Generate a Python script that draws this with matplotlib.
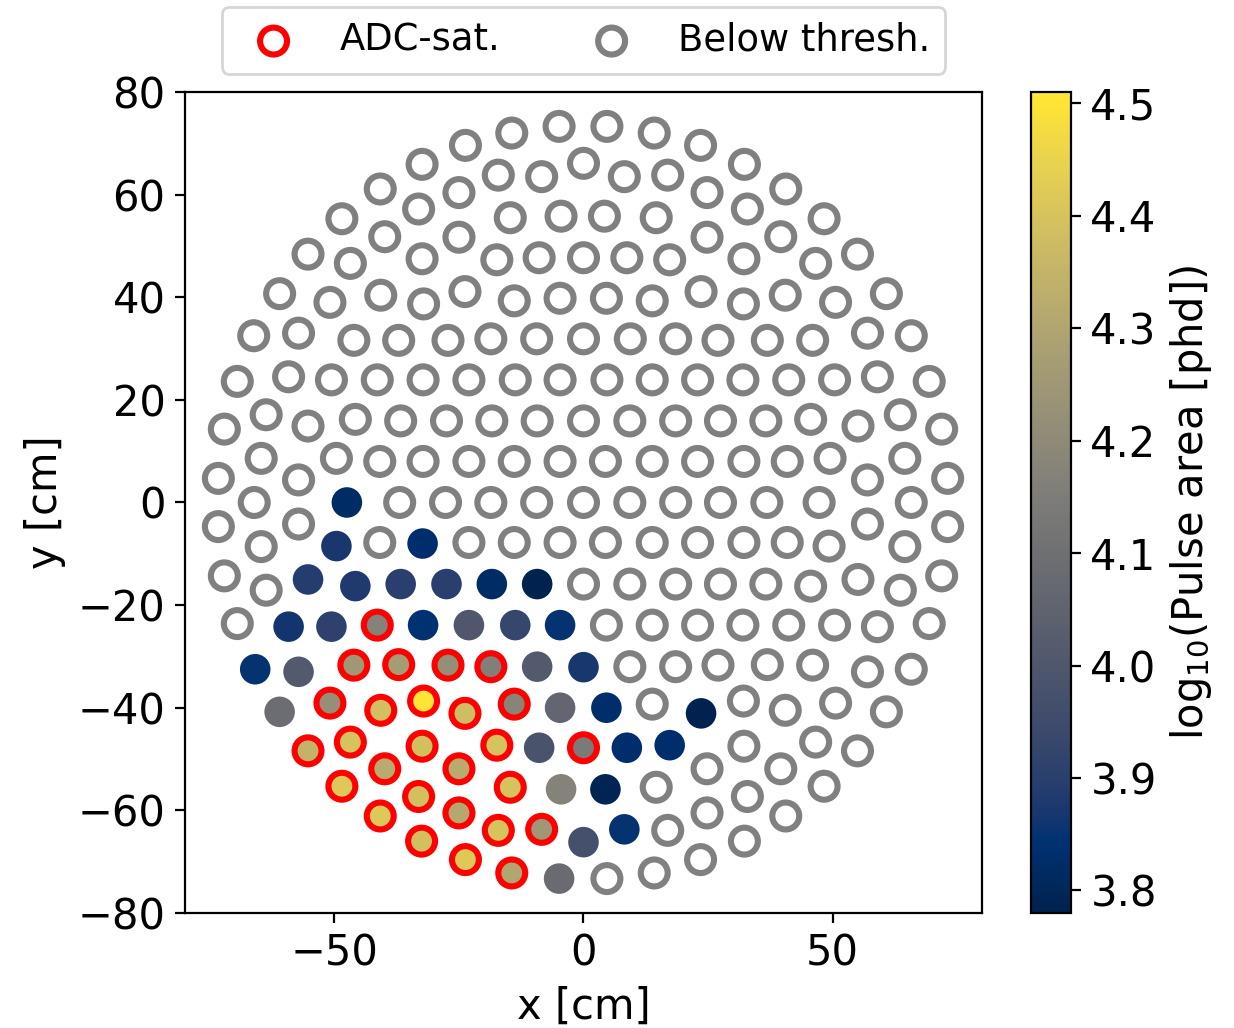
import numpy as np
import matplotlib
matplotlib.use('Agg')
import matplotlib.pyplot as plt
from matplotlib.colors import Normalize

plt.rcParams['font.size'] = 15

# below-threshold PMTs (gray rings), positions in cm, read row by row
bt_x = [
    -4.9, 4.7,
    -14.4, 14.2,
    -23.7, 23.5,
    0.0,
    -32.4, 32.3,
    -17.1, 16.9,
    -8.4, 8.2,
    -40.8, 40.6,
    -25.0, 24.8,
    -33.1, 32.9,
    -4.5, 4.2,
    -14.7, 14.6,
    -48.5, 48.3,
    -39.9, 39.6,
    -25.0, 24.8,
    -55.3, 55.0,
    -8.9, 0.0, 8.7,
    -32.4, 32.2,
    -17.4, 17.3,
    -46.8, 46.6,
    -23.8, 23.6,
    -61.0, 60.8,
    -40.7, 40.5,
    -4.7, 4.6,
    -13.9, 13.8,
    -50.9, 50.6,
    -32.1, 32.1,
    -57.2, 57.0,
    -66.2, 65.8,
    -18.6, -9.4, 0.0, 9.4, 18.5,
    -46.1, -37.1, -27.2, 27.0, 36.9, 46.0,
    -59.2, 59.0,
    -50.6, -41.4, -32.2, -23.0, -13.7, -4.7, 4.7, 13.8, 22.9, 32.0, 41.2, 50.4,
    -69.5, 69.4,
    -63.7, 63.6,
    -45.8, 45.6,
    -36.7, -27.5, -18.4, -9.3, 0.0, 9.3, 18.5, 27.5, 36.6,
    -55.3, 55.1,
    -72.1, 71.9,
    -64.7, -49.6, 49.5, 64.5,
    -40.9, -32.2, -23.0, -13.9, -4.7, 4.4, 13.8, 22.9, 32.2, 40.9,
    -73.3, 73.1,
    -57.2, 57.0,
    -66.1, -36.9, -27.7, -18.6, -9.4, 0.0, 9.3, 18.5, 27.5, 36.8, 47.3, 65.8,
    -57.2, 57.0,
    -73.3, 73.1,
    -40.9, -23.0, -13.9, -4.7, 4.4, 13.8, 22.9, 32.2, 40.9,
    49.3,
    -64.7, 64.5,
    -72.1, 71.9,
    55.1,
    0.0, 9.3, 18.5, 27.5, 36.6,
    45.6,
    -63.7, 63.6,
    -69.5, 69.4,
    4.6, 13.8, 22.9, 32.0, 41.2, 50.4,
    59.0,
    36.9,
    27.0, 46.0,
    9.3, 18.5,
    65.8,
    57.0,
    32.1,
    50.6,
    13.8,
    40.5,
    60.8,
    46.6,
    32.2,
    55.0,
    24.8, 39.6,
    48.3,
    14.6,
    32.9,
    24.8,
    40.6,
    16.9,
    32.3,
    23.5,
    14.2,
    4.7,
]
bt_y = ([73.3] * 2 + [72.0] * 2 + [69.6] * 2 + [66.1] * 1 + [65.9] * 2
        + [63.8] * 2 + [63.5] * 2 + [61.1] * 2 + [60.4] * 2 + [57.2] * 2
        + [55.8] * 2 + [55.5] * 2 + [55.3] * 2 + [51.8] * 2 + [51.7] * 2
        + [48.4] * 2 + [47.7] * 3 + [47.5] * 2 + [47.3] * 2 + [46.6] * 2
        + [41.1] * 2 + [40.7] * 2 + [40.4] * 2 + [39.8] * 2 + [39.3] * 2
        + [39.0] * 2 + [38.7] * 2 + [33.0] * 2 + [32.5] * 2 + [31.9] * 5
        + [31.6] * 6 + [24.5] * 2 + [23.9] * 12 + [23.6] * 2 + [17.1] * 2
        + [16.2] * 2 + [15.9] * 9 + [14.9] * 2 + [14.3] * 2 + [8.6] * 4
        + [8.0] * 10 + [4.7] * 2 + [4.4] * 2 + [0.0] * 12
        + [-4.2] * 2 + [-4.7] * 2 + [-7.8] * 9 + [-8.5] * 1 + [-8.6] * 2
        + [-14.3] * 2 + [-15.0] * 1 + [-15.9] * 5 + [-16.3] * 1 + [-17.1] * 2
        + [-23.6] * 2 + [-23.9] * 6 + [-24.2] * 1 + [-31.6] * 1 + [-31.7] * 2
        + [-32.0] * 2 + [-32.5] * 1 + [-33.0] * 1 + [-38.7] * 1 + [-39.1] * 1
        + [-39.3] * 1 + [-40.5] * 1 + [-40.8] * 1 + [-46.7] * 1 + [-47.5] * 1
        + [-48.4] * 1 + [-51.9] * 2 + [-55.3] * 1 + [-55.5] * 1 + [-57.3] * 1
        + [-60.5] * 1 + [-61.1] * 1 + [-63.9] * 1 + [-66.0] * 1 + [-69.6] * 1
        + [-72.2] * 1 + [-73.3] * 1)
assert len(bt_x) == len(bt_y)

# PMTs above threshold, not saturated: x, y [cm], log10(pulse area)
hit_x = [-47.5, -49.6, -32.3, -55.3, -45.8, -36.7, -27.5, -18.4, -9.3,
         -59.2, -50.6, -32.2, -23.0, -13.7, -4.7, -65.9, -57.2, -9.3, 0.0,
         -61.0, -4.7, 4.6, 23.6, -8.9, 8.7, 17.3, -4.5, 4.4, 0.0, 8.2, -4.9]
hit_y = [0.0, -8.5, -8.0, -15.0, -16.3, -15.9, -15.9, -15.9, -15.9,
         -24.2, -24.2, -23.9, -23.9, -23.9, -23.9, -32.5, -33.0, -32.0, -32.1,
         -40.8, -40.0, -40.0, -41.1, -47.8, -47.8, -47.3, -55.9, -55.9, -66.2,
         -63.7, -73.3]
hit_v = [3.82, 3.87, 3.83, 3.89, 3.88, 3.90, 3.90, 3.82, 3.78,
         3.86, 3.91, 3.84, 4.00, 3.93, 3.85, 3.85, 4.01, 4.01, 3.87,
         4.09, 4.06, 3.83, 3.78, 3.98, 3.83, 3.83, 4.17, 3.79, 3.97,
         3.85, 4.08]

# ADC-saturated PMTs
sat_x = [-41.4, -46.1, -37.1, -27.2, -18.6, -50.9, -40.7, -32.1, -23.8,
         -13.9, -55.3, -46.8, -32.4, -17.4, 0.0, -39.9, -25.0, -48.5, -33.1,
         -14.7, -40.8, -25.0, -17.1, -8.4, -32.5, -23.7, -14.4]
sat_y = [-23.9, -31.7, -31.6, -31.7, -32.0, -39.1, -40.5, -38.7, -41.1,
         -39.3, -48.4, -46.7, -47.5, -47.3, -47.8, -51.9, -51.9, -55.3, -57.3,
         -55.5, -61.1, -60.5, -63.9, -63.7, -66.0, -69.6, -72.2]
sat_v = [4.17, 4.25, 4.27, 4.22, 4.16, 4.22, 4.39, 4.50, 4.38,
         4.18, 4.35, 4.40, 4.39, 4.40, 4.14, 4.32, 4.32, 4.42, 4.39,
         4.40, 4.42, 4.31, 4.40, 4.25, 4.39, 4.42, 4.30]

cbar_ticks = [3.8, 3.9, 4.0, 4.1, 4.2, 4.3, 4.4, 4.5]

fig = plt.figure(figsize=(6.17, 5.14), dpi=200)
ax = fig.add_axes([0.1499, 0.1119, 0.6459, 0.7986])
cax = fig.add_axes([0.8355, 0.1119, 0.0324, 0.7986])

norm = Normalize(vmin=3.78, vmax=4.51)
ring_s = 94
fill_s = 121
lw = 2.2

bt = ax.scatter(bt_x, bt_y, s=ring_s, facecolors='none', edgecolors='gray',
                linewidths=lw, label='Below thresh.')
sc = ax.scatter(hit_x, hit_y, c=hit_v, s=fill_s, cmap='cividis', norm=norm,
                linewidths=0)
ax.scatter(sat_x, sat_y, c=sat_v, s=fill_s, cmap='cividis', norm=norm,
           linewidths=0)
sat = ax.scatter(sat_x, sat_y, s=ring_s, facecolors='none', edgecolors='red',
                 linewidths=lw, label='ADC-sat.')

ax.set_xlim(-80, 80)
ax.set_ylim(-80, 80)
ax.set_xticks([-50, 0, 50])
ax.set_yticks(np.arange(-80, 81, 20))
ax.set_xlabel('x [cm]')
ax.set_ylabel('y [cm]')

ax.legend(handles=[sat, bt], loc='lower center', bbox_to_anchor=(0.5, 1.0),
          ncol=2, fontsize=13.3)

cb = fig.colorbar(sc, cax=cax, ticks=cbar_ticks)
cb.set_label(r'log$_{10}$(Pulse area [phd])')

fig.savefig('out.png', dpi=200)
